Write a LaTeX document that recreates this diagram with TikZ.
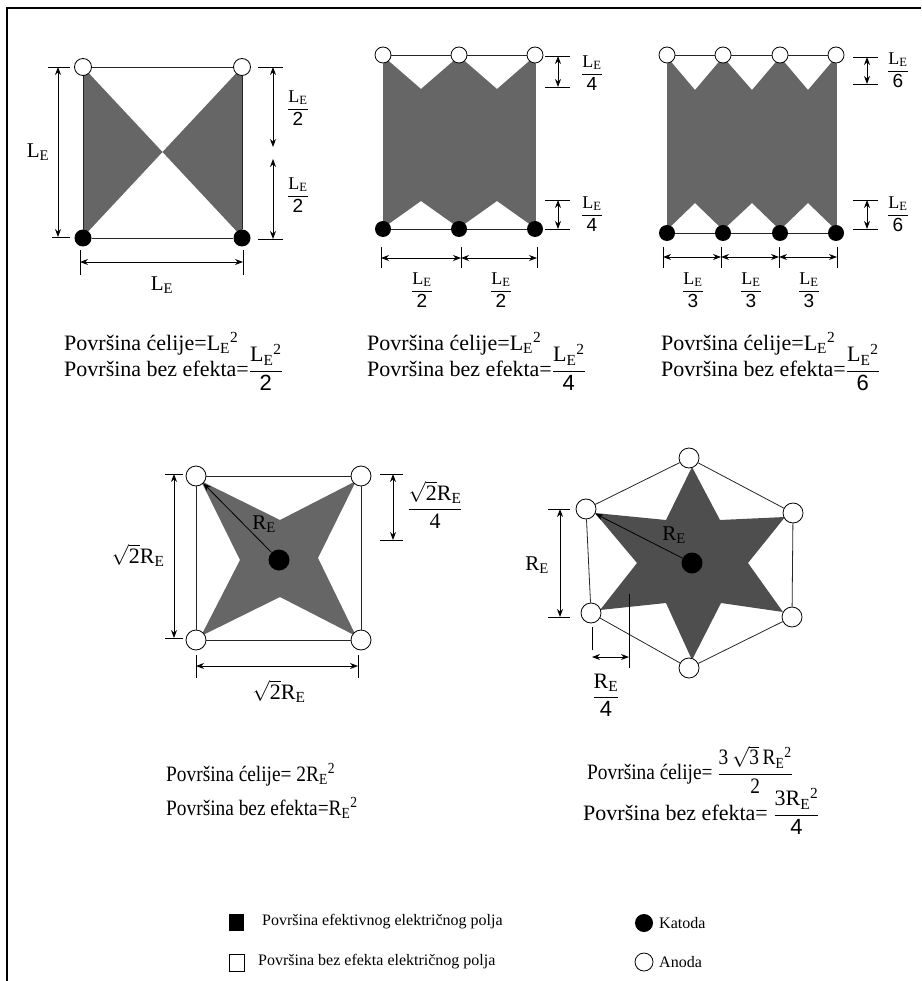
\documentclass[tikz,border=0pt]{standalone}
\usepackage{fontspec}
\setmainfont{Liberation Serif}
\newfontfamily\dig{Liberation Sans}
\newfontfamily\condfont[FakeStretch=0.88]{Liberation Serif}
\usetikzlibrary{arrows.meta}
\definecolor{fieldgray}{RGB}{102,102,102}
\definecolor{stargray}{RGB}{78,78,78}
\newcommand{\LE}{L\textsubscript{E}}
\newcommand{\RE}{R\textsubscript{E}}
\newcommand{\fr}[2]{$\displaystyle\frac{\mbox{#1}}{\mbox{#2}}$}
\newcommand{\sqt}[1]{$\sqrt{\mbox{#1}}$}
\newcommand{\dg}[1]{{\dig\fontsize{19}{21}\selectfont #1}}

\begin{document}
\begin{tikzpicture}[
    x=1pt,y=-1pt,
    anode/.style={circle, draw, fill=white, line width=0.8pt, inner sep=0pt, minimum size=17},
    cathode/.style={circle, fill=black, inner sep=0pt, minimum size=17},
    cellline/.style={line width=0.8pt, draw=black!85},
    dimline/.style={{Stealth[length=8pt,width=6pt]}-{Stealth[length=8pt,width=6pt]}, line width=0.9pt},
    dimtick/.style={line width=0.9pt},
    radius/.style={-{Stealth[length=8pt,width=6pt]}, line width=0.8pt},
    lbl/.style={font=\fontsize{21}{24}\selectfont, inner sep=0pt},
    fraclbl/.style={font=\fontsize{18}{20}\selectfont, inner sep=0pt},
    areatxt/.style={font=\fontsize{22}{25}\selectfont, anchor=base west, inner sep=0pt},
    legtxt/.style={font=\fontsize{16}{18}\selectfont, anchor=west, inner sep=0pt}
]
\useasboundingbox (0,0) rectangle (921,981);
\draw[line width=2pt] (7,981) -- (7,8) -- (921,8);

% Cell 1: two electrodes on each side
\fill[fieldgray] (83,67) -- (162.5,152) -- (83,237) -- cycle;
\fill[fieldgray] (242,67) -- (162.5,152) -- (242,237) -- cycle;
\node[anode] (A1a) at (83,67) {};
\node[anode] (A1b) at (242,67) {};
\node[cathode] (K1a) at (83,238) {};
\node[cathode] (K1b) at (242,238) {};
\draw[cellline] (A1a) -- (A1b);
\draw[cellline] (K1a) -- (K1b);
\draw[cellline] (A1a) -- (K1a);
\draw[cellline] (A1b) -- (K1b);
\draw[dimtick] (48,67) -- (70,67) (52,237) -- (70,237);
\draw[dimline] (58,67) -- (58,237);
\node[lbl] (L1v) at (38,152) {\LE};
\draw[dimtick] (258,67) -- (283,67) (258,239) -- (283,239);
\draw[dimline] (273,67) -- (273,147);
\draw[dimline] (273,159) -- (273,239);
\node[fraclbl] (h1a) at (298,108) {\fr{\LE}{\dg{2}}};
\node[fraclbl] (h1b) at (298,195) {\fr{\LE}{\dg{2}}};
\draw[dimtick] (80,250) -- (80,275) (243,250) -- (243,275);
\draw[dimline] (80,262) -- (243,262);
\node[lbl] (L1h) at (162,285) {\LE};
\node[areatxt] (cell1) at (64,350) {Površina ćelije=\LE\textsuperscript{2}};
\node[areatxt] (dead1) at (64,376) {Površina bez efekta=\fr{\LE\textsuperscript{2}}{\dig 2}};

% Cell 2: three electrodes on each side
\fill[fieldgray] (383,56) -- (421,89) -- (459,56) -- (497,89) -- (535,56)
  -- (535,228) -- (497,201) -- (459,228) -- (421,201) -- (383,228) -- cycle;
\node[anode, minimum size=16] (A2a) at (383,55) {};
\node[anode, minimum size=16] (A2b) at (459,55) {};
\node[anode, minimum size=16] (A2c) at (535,55) {};
\node[cathode, minimum size=16] (K2a) at (383,229) {};
\node[cathode, minimum size=16] (K2b) at (459,229) {};
\node[cathode, minimum size=16] (K2c) at (535,229) {};
\draw[cellline] (A2a) -- (A2b);
\draw[cellline] (A2b) -- (A2c);
\draw[cellline] (K2a) -- (K2b);
\draw[cellline] (K2b) -- (K2c);
\draw[cellline, draw=fieldgray] (A2a) -- (K2a);
\draw[cellline, draw=fieldgray] (A2c) -- (K2c);
\draw[dimtick] (545,56) -- (570,56) (545,87) -- (570,87);
\draw[dimline] (558,56) -- (558,87);
\node[fraclbl] (h2a) at (592,73) {\fr{\LE}{\dg{4}}};
\draw[dimtick] (545,200) -- (570,200) (545,229) -- (570,229);
\draw[dimline] (558,200) -- (558,229);
\node[fraclbl] (h2b) at (592,214) {\fr{\LE}{\dg{4}}};
\draw[dimtick] (381,247) -- (381,268) (461,247) -- (461,268) (537,247) -- (537,268);
\draw[dimline] (381,258) -- (461,258);
\draw[dimline] (461,258) -- (537,258);
\node[fraclbl] (w2a) at (422,290) {\fr{\LE}{\dg{2}}};
\node[fraclbl] (w2b) at (501,290) {\fr{\LE}{\dg{2}}};
\node[areatxt] (cell2) at (367,350) {Površina ćelije=\LE\textsuperscript{2}};
\node[areatxt] (dead2) at (367,376) {Površina bez efekta=\fr{\LE\textsuperscript{2}}{\dig 4}};

% Cell 3: four electrodes on each side
\fill[fieldgray] (667,57) -- (695,90) -- (723,57) -- (752,90) -- (780,57) -- (808,90) -- (836,57)
  -- (836,230) -- (808,203) -- (780,230) -- (752,203) -- (723,230) -- (695,203) -- (667,230) -- cycle;
\node[anode, minimum size=16] (A3a) at (667,55) {};
\node[anode, minimum size=16] (A3b) at (723,55) {};
\node[anode, minimum size=16] (A3c) at (780,55) {};
\node[anode, minimum size=16] (A3d) at (836,55) {};
\node[cathode, minimum size=16] (K3a) at (667,233) {};
\node[cathode, minimum size=16] (K3b) at (723,233) {};
\node[cathode, minimum size=16] (K3c) at (780,233) {};
\node[cathode, minimum size=16] (K3d) at (836,233) {};
\draw[cellline] (A3a) -- (A3b);
\draw[cellline] (A3b) -- (A3c);
\draw[cellline] (A3c) -- (A3d);
\draw[cellline] (K3a) -- (K3b);
\draw[cellline] (K3b) -- (K3c);
\draw[cellline] (K3c) -- (K3d);
\draw[cellline, draw=fieldgray] (A3a) -- (K3a);
\draw[cellline, draw=fieldgray] (A3d) -- (K3d);
\draw[dimtick] (853,57) -- (878,57) (853,84) -- (878,84);
\draw[dimline] (867,57) -- (867,84);
\node[fraclbl] (h3a) at (898,70) {\fr{\LE}{\dg{6}}};
\draw[dimtick] (853,200) -- (878,200) (853,229) -- (878,229);
\draw[dimline] (867,200) -- (867,229);
\node[fraclbl] (h3b) at (898,214) {\fr{\LE}{\dg{6}}};
\draw[dimtick] (663,247) -- (663,268) (721,247) -- (721,268) (779,247) -- (779,268) (837,247) -- (837,268);
\draw[dimline] (663,257) -- (721,257);
\draw[dimline] (721,257) -- (779,257);
\draw[dimline] (779,257) -- (837,257);
\node[fraclbl] (w3a) at (693,290) {\fr{\LE}{\dg{3}}};
\node[fraclbl] (w3b) at (751,290) {\fr{\LE}{\dg{3}}};
\node[fraclbl] (w3c) at (809,290) {\fr{\LE}{\dg{3}}};
\node[areatxt] (cell3) at (661,350) {Površina ćelije=\LE\textsuperscript{2}};
\node[areatxt] (dead3) at (661,376) {Površina bez efekta=\fr{\LE\textsuperscript{2}}{\dig 6}};

% Cell 4: square, cathode in the centre
\fill[fieldgray] (201,481) -- (280,520) -- (356,481) -- (318,558) -- (356,636)
  -- (280,597) -- (201,636) -- (240,560) -- cycle;
\node[anode, minimum size=20] (A4a) at (196,476) {};
\node[anode, minimum size=20] (A4b) at (361,476) {};
\node[anode, minimum size=20] (A4c) at (361,640) {};
\node[anode, minimum size=20] (A4d) at (196,640) {};
\node[cathode, minimum size=21] (K4) at (279,560) {};
\draw[cellline] (A4a) -- (A4b);
\draw[cellline] (A4b) -- (A4c);
\draw[cellline] (A4c) -- (A4d);
\draw[cellline] (A4d) -- (A4a);
\draw[radius] (K4) -- (A4a);
\node[lbl] (r4) at (264,524) {\RE};
\draw[dimtick] (165,474) -- (183,474) (165,638) -- (183,638);
\draw[dimline] (174,474) -- (174,638);
\node[lbl, font=\fontsize{22}{25}\selectfont] (s4v) at (138,555) {\sqt{2}\RE};
\draw[dimtick] (380,474) -- (403,474) (380,540) -- (403,540);
\draw[dimline] (393,474) -- (393,540);
\node[lbl, font=\fontsize{22}{25}\selectfont] (s4r) at (435,505) {\fr{\sqt{2}\RE}{4}};
\draw[dimtick] (196,655) -- (196,678) (358,655) -- (358,678);
\draw[dimline] (196,666) -- (358,666);
\node[lbl, font=\fontsize{22}{25}\selectfont] (s4h) at (279,691) {\sqt{2}\RE};
\node[areatxt, font=\fontsize{22}{25}\condfont] (cell4) at (166,781) {Površina ćelije= 2\RE\textsuperscript{2}};
\node[areatxt, font=\fontsize{22}{25}\condfont] (dead4) at (166,815) {Površina bez efekta=\RE\textsuperscript{2}};

% Cell 5: hexagon, cathode in the centre
\fill[stargray] (692,467) -- (720,520) -- (785,517) -- (748,563) -- (783,612) -- (721,603)
  -- (692,660) -- (666,603) -- (600,610) -- (637,563) -- (595,513) -- (666,520) -- cycle;
\node[anode, minimum size=20] (A5a) at (689,458) {};
\node[anode, minimum size=20] (A5b) at (793,513) {};
\node[anode, minimum size=20] (A5c) at (792,617) {};
\node[anode, minimum size=20] (A5d) at (689,668) {};
\node[anode, minimum size=20] (A5e) at (591,613) {};
\node[anode, minimum size=20] (A5f) at (586,509) {};
\node[cathode, minimum size=21] (K5) at (692,563) {};
\draw[cellline] (A5a) -- (A5b);
\draw[cellline] (A5b) -- (A5c);
\draw[cellline] (A5c) -- (A5d);
\draw[cellline] (A5d) -- (A5e);
\draw[cellline] (A5e) -- (A5f);
\draw[cellline] (A5f) -- (A5a);
\draw[radius] (K5) -- (A5f);
\node[lbl] (r5) at (674,535) {\RE};
\draw[dimtick] (548,509) -- (570,509) (548,617) -- (570,617);
\draw[dimline] (560,509) -- (560,617);
\node[lbl] (r5v) at (537,565) {\RE};
\draw[dimtick] (592,627) -- (592,650) (629,594) -- (629,668);
\draw[dimline] (592,657) -- (629,657);
\node[lbl, font=\fontsize{22}{25}\selectfont] (r5h) at (606,695) {\fr{\RE}{\dig 4}};
\node[areatxt, font=\fontsize{22}{25}\condfont] (cell5) at (587,779) {Površina ćelije= \fr{3\,\sqt{3}\,\RE\textsuperscript{2}}{2}};
\node[areatxt] (dead5) at (583,820) {Površina bez efekta= \fr{3\RE\textsuperscript{2}}{\dig 4}};

% Legend
\node[fill=black, minimum width=15, minimum height=17, inner sep=0pt] (legField) at (236.5,922.5) {};
\node[legtxt] (legFieldTxt) at (262,922) {Površina efektivnog električnog polja};
\node[draw, line width=0.8pt, minimum width=15, minimum height=17, inner sep=0pt] (legDead) at (236.5,963) {};
\node[legtxt] (legDeadTxt) at (258,962) {Površina bez efekta električnog polja};
\node[cathode, minimum size=18] (legK) at (644,923) {};
\node[legtxt] (legKTxt) at (659,923) {Katoda};
\node[anode, minimum size=18] (legA) at (644,962) {};
\node[legtxt] (legATxt) at (659,962) {Anoda};
\end{tikzpicture}
\end{document}
